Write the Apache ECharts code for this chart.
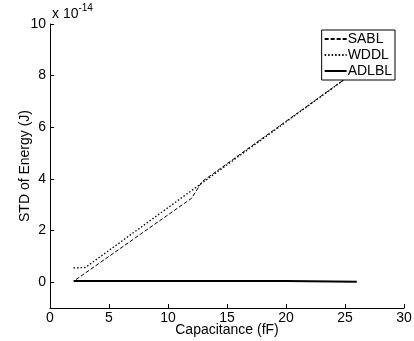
<!DOCTYPE html>
<html><head><meta charset="utf-8">
<script src="https://cdn.jsdelivr.net/npm/echarts@6/dist/echarts.min.js"></script>
<style>html,body{margin:0;padding:0;background:#fff}#c{width:414px;height:341px}</style>
</head><body><div id="c"></div>
<script>
const xTicks = [0,5,10,15,20,25,30];
const yTicks = [0,2,4,6,8,10];
const sablX = [2.2, 12.0, 12.9, 26];
const sablY = [0.1, 3.25, 3.9, 8.2];
const wddlX = [2, 3, 12.7, 26];
const wddlY = [0.55, 0.57, 3.78, 8.2];
const adlblX = [2, 10, 20, 26];
const adlblY = [0.05, 0.05, 0.05, 0.02];

const pairs = (xs, ys) => xs.map((x, i) => [x, ys[i]]);
const font = 'Liberation Sans, Arial, sans-serif';
const chart = echarts.init(document.getElementById('c'), null, {renderer: 'canvas'});
chart.setOption({
  animation: false,
  backgroundColor: '#fff',
  textStyle: {fontFamily: font},
  grid: {left: 50, right: 10, top: 24, bottom: 33, outerBoundsMode: 'none', containLabel: false},
  legend: {
    right: 19, top: 30, orient: 'vertical', itemGap: 2, itemWidth: 22, itemHeight: 12,
    backgroundColor: '#fff', borderColor: '#000', borderWidth: 1, padding: [2, 3, 2, 2],
    itemStyle: {opacity: 0},
    textStyle: {fontFamily: font, fontSize: 14, color: '#000', padding: [0, 0, 0, -4]},
    data: ['SABL', 'WDDL', 'ADLBL']
  },
  xAxis: {
    type: 'value', min: 0, max: 30,
    name: 'Capacitance (fF)', nameLocation: 'middle', nameGap: 15, nameMoveOverlap: false,
    nameTextStyle: {fontSize: 14, color: '#000', fontFamily: font},
    axisLine: {onZero: false, lineStyle: {color: '#000', width: 1}},
    axisTick: {inside: true, length: 4, customValues: xTicks, lineStyle: {color: '#000'}},
    axisLabel: {customValues: xTicks, color: '#000', fontSize: 14, margin: 3, fontFamily: font},
    splitLine: {show: false}
  },
  yAxis: {
    type: 'value', min: -1, max: 10,
    name: 'STD of Energy (J)', nameLocation: 'middle', nameGap: 18, nameMoveOverlap: false,
    nameTextStyle: {fontSize: 14, color: '#000', fontFamily: font},
    axisLine: {show: true, onZero: false, lineStyle: {color: '#000', width: 1}},
    axisTick: {show: true, inside: true, length: 4, customValues: yTicks, lineStyle: {color: '#000'}},
    axisLabel: {customValues: yTicks, color: '#000', fontSize: 14, margin: 4, fontFamily: font},
    splitLine: {show: false}
  },
  graphic: [{
    type: 'text', left: 52, top: 3,
    style: {
      text: '{a|x 10}{b|-14}', fill: '#000',
      rich: {a: {fontSize: 14, fontFamily: font, verticalAlign: 'bottom'}, b: {fontSize: 10, fontFamily: font, verticalAlign: 'top', padding: [0,0,8,0]}}
    }
  }],
  series: [
    {name: 'SABL', type: 'line', symbol: 'none', data: pairs(sablX, sablY),
     lineStyle: {color: '#000', width: 1, type: [4, 2]}, itemStyle: {color: '#000'}},
    {name: 'WDDL', type: 'line', symbol: 'none', data: pairs(wddlX, wddlY),
     lineStyle: {color: '#000', width: 1.3, type: [1.5, 2]}, itemStyle: {color: '#000'}},
    {name: 'ADLBL', type: 'line', symbol: 'none', data: pairs(adlblX, adlblY),
     lineStyle: {color: '#000', width: 2}, itemStyle: {color: '#000'}}
  ]
});
</script></body></html>
